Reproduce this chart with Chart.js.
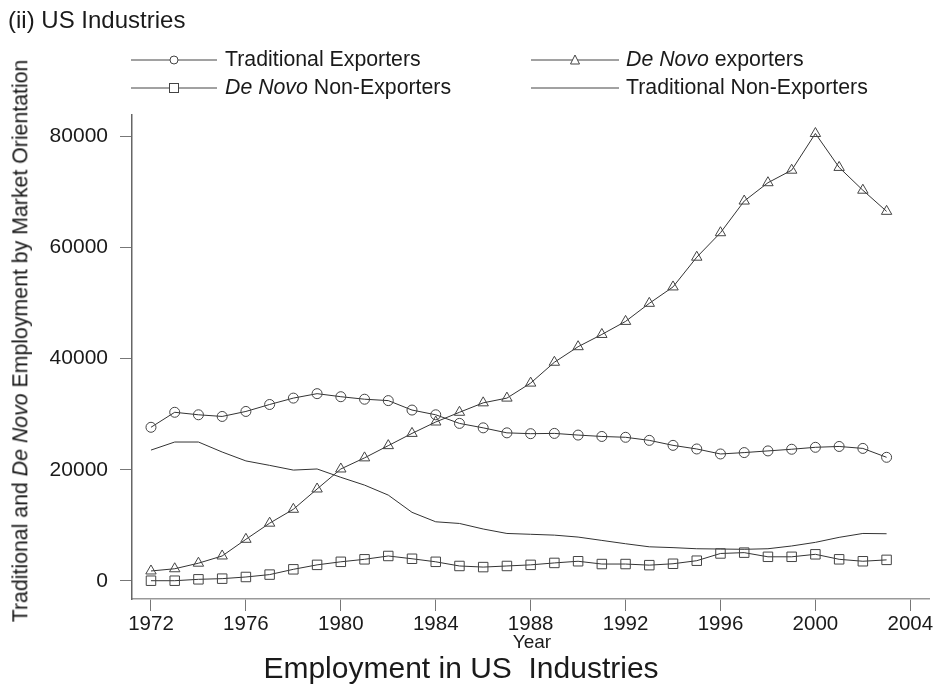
<!DOCTYPE html>
<html>
<head>
<meta charset="utf-8">
<script src="https://cdn.jsdelivr.net/npm/chart.js@4/dist/chart.umd.min.js"></script>
<style>
    body { margin: 0; background: #fff; }
    #wrap { position: relative; width: 937px; height: 687px; overflow: hidden; font-family: "Liberation Sans", Arial, sans-serif; color: #1a1a1a; }
    #wrap canvas { position: absolute; left: 0; top: 0; }
    .txt { position: absolute; white-space: nowrap; line-height: 1; }
    .leg { position: absolute; }
</style>
</head>
<body>
<div id="wrap">
    <canvas id="employment-chart" width="937" height="687"></canvas>
    <div class="txt" style="left:8px; top:8px; font-size:24px;">(ii) US Industries</div>

    <svg class="leg" style="left:0; top:0;" width="937" height="110">
        <g stroke="#444" stroke-width="1" fill="none">
            <line x1="131" y1="60" x2="217" y2="60"/>
            <circle cx="174" cy="60" r="4" fill="#fff"/>
            <line x1="131" y1="88" x2="217" y2="88"/>
            <rect x="169.5" y="83.5" width="9" height="9" fill="#fff"/>
            <line x1="531" y1="60" x2="619" y2="60"/>
            <path d="M575 55 L579.5 64 L570.5 64 Z" fill="#fff"/>
            <line x1="531" y1="88" x2="619" y2="88"/>
        </g>
    </svg>
    <div class="txt" style="left:225px; top:49px; font-size:21.3px;">Traditional Exporters</div>
    <div class="txt" style="left:225px; top:77px; font-size:21.3px;"><i>De Novo</i> Non-Exporters</div>
    <div class="txt" style="left:626px; top:49px; font-size:21.3px;"><i>De Novo</i> exporters</div>
    <div class="txt" style="left:626px; top:77px; font-size:21.3px;">Traditional Non-Exporters</div>

    <div class="txt" style="left:21px; top:341px; font-size:21.3px; transform: translate(-50%, -50%) rotate(-90deg);">Traditional and <i>De Novo</i> Employment by Market Orientation</div>
    <div class="txt" style="left:532px; top:641px; font-size:19px; transform: translate(-50%, -50%);">Year</div>
    <div class="txt" style="left:461px; top:668px; font-size:30px; transform: translate(-50%, -50%);">Employment in US&nbsp; Industries</div>
</div>
<script>
// years and series
const years = [1972, 1973, 1974, 1975, 1976, 1977, 1978, 1979, 1980, 1981, 1982, 1983, 1984, 1985, 1986, 1987,
               1988, 1989, 1990, 1991, 1992, 1993, 1994, 1995, 1996, 1997, 1998, 1999, 2000, 2001, 2002, 2003];

const traditionalExporters = [27650, 30350, 29900, 29600, 30500, 31750, 32900, 33700, 33150, 32700, 32450, 30750, 29900, 28350, 27550, 26650,
                              26500, 26550, 26250, 26000, 25850, 25300, 24400, 23750, 22850, 23100, 23400, 23700, 24050, 24200, 23850, 22250];

const deNovoExporters = [1800, 2200, 3200, 4500, 7500, 10400, 12900, 16550, 20150, 22150, 24350, 26550, 28600, 30350, 32050, 32900,
                         35600, 39350, 42150, 44350, 46700, 49950, 52900, 58250, 62650, 68350, 71650, 73900, 80500, 74400, 70300, 66500];

const deNovoNonExporters = [50, 50, 300, 420, 720, 1150, 2100, 2900, 3450, 3900, 4500, 4000, 3450, 2700, 2500, 2700,
                            2900, 3250, 3550, 3050, 3050, 2850, 3100, 3650, 4950, 5100, 4350, 4350, 4800, 3900, 3550, 3800];

const traditionalNonExporters = [23550, 25000, 25000, 23200, 21600, 20800, 19950, 20150, 18650, 17250, 15450, 12350, 10650, 10350, 9350, 8550,
                                 8400, 8250, 7900, 7300, 6700, 6150, 6000, 5800, 5750, 5700, 5800, 6300, 6950, 7850, 8550, 8500];

const xTicks = [1972, 1976, 1980, 1984, 1988, 1992, 1996, 2000, 2004];
const yTicks = [0, 20000, 40000, 60000, 80000];

function toPoints(values) {
    return years.map((yr, i) => ({ x: yr, y: values[i] }));
}

function initEmploymentChart() {
    const ctx = document.getElementById('employment-chart');

    const lineStyle = {
        borderColor: '#333',
        borderWidth: 1,
        pointBorderColor: '#444',
        pointBackgroundColor: 'rgba(255,255,255,0)',
        pointBorderWidth: 1,
        tension: 0,
        fill: false
    };

    new Chart(ctx, {
        type: 'line',
        data: {
            datasets: [
                Object.assign({ label: 'Traditional Exporters', data: toPoints(traditionalExporters), pointStyle: 'circle', pointRadius: 5 }, lineStyle),
                Object.assign({ label: 'De Novo exporters', data: toPoints(deNovoExporters), pointStyle: 'triangle', pointRadius: 6 }, lineStyle),
                Object.assign({ label: 'De Novo Non-Exporters', data: toPoints(deNovoNonExporters), pointStyle: 'rect', pointRadius: 6.7 }, lineStyle),
                Object.assign({ label: 'Traditional Non-Exporters', data: toPoints(traditionalNonExporters), pointRadius: 0 }, lineStyle)
            ]
        },
        options: {
            responsive: false,
            animation: false,
            layout: { padding: { left: 0, right: 5, top: 115, bottom: 38 } },
            scales: {
                x: {
                    type: 'linear',
                    min: 1971.2,
                    max: 2004.8,
                    afterBuildTicks: scale => { scale.ticks = xTicks.map(v => ({ value: v })); },
                    afterFit: scale => { scale.height = 50; },
                    grid: { drawOnChartArea: false, drawTicks: true, tickLength: 12, color: '#777' },
                    border: { color: '#999', width: 1.5 },
                    ticks: {
                        color: '#1a1a1a',
                        padding: 1,
                        maxRotation: 0,
                        font: { family: '"Liberation Sans", Arial, sans-serif', size: 20.5 },
                        callback: value => String(value)
                    }
                },
                y: {
                    min: -3240,
                    max: 83830,
                    afterBuildTicks: scale => { scale.ticks = yTicks.map(v => ({ value: v })); },
                    afterFit: scale => { scale.width = 132; },
                    grid: { drawOnChartArea: false, drawTicks: true, tickLength: 12, color: '#777' },
                    border: { color: '#666', width: 1.5 },
                    ticks: {
                        color: '#1a1a1a',
                        padding: 12,
                        font: { family: '"Liberation Sans", Arial, sans-serif', size: 21 },
                        callback: value => String(value)
                    }
                }
            },
            plugins: {
                legend: { display: false },
                title: { display: false },
                tooltip: { enabled: false }
            }
        }
    });
}

initEmploymentChart();
</script>
</body>
</html>
